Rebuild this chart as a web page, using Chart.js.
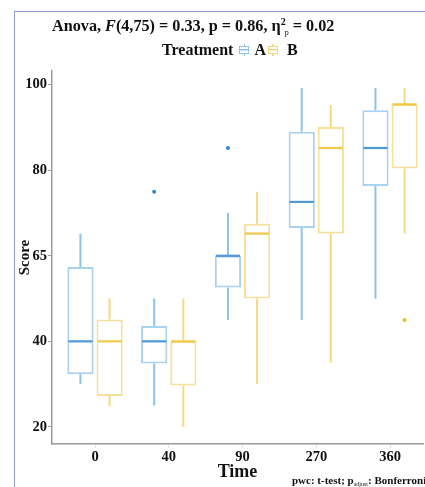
<!DOCTYPE html>
<html>
<head>
<meta charset="utf-8">
<script src="https://cdn.jsdelivr.net/npm/chart.js@4.4.1/dist/chart.umd.min.js"></script>
<style>
  html, body { margin: 0; padding: 0; background: #fff; }
  body { width: 425px; height: 487px; position: relative; overflow: hidden;
         font-family: "Liberation Serif", "DejaVu Serif", serif; font-weight: bold; color: #111; }
  #frame { position: absolute; left: 14px; top: 11px; width: 420px; height: 480px;
           border-left: 1px solid #8d9bd6; border-top: 1px solid #8d9bd6; }
  #chart { position: absolute; left: 0; top: 0; }
  #title { position: absolute; left: 52px; top: 18px; font-size: 16.2px; line-height: 16px; white-space: nowrap; }
  #title .sup { font-size: 10px; position: relative; top: -6px; }
  #title .sub { font-size: 8px; font-weight: normal; position: relative; top: 4px; margin-left: -1px; }
  #legend { position: absolute; left: 162px; top: 42px; font-size: 16px; line-height: 15px; white-space: nowrap; }
  .key { display: inline-block; position: relative; width: 10px; height: 12px; vertical-align: -1px; }
  .key::before { content: ''; position: absolute; left: 0; right: 0; top: 2px; bottom: 2px; box-sizing: border-box;
                 border: 1.5px solid currentColor;
                 background: linear-gradient(currentColor, currentColor) center / 100% 1.5px no-repeat; }
  .key::after { content: ''; position: absolute; left: 50%; top: 0; bottom: 0; width: 1.5px; margin-left: -0.75px;
                background: linear-gradient(currentColor, currentColor) top / 100% 2px no-repeat,
                            linear-gradient(currentColor, currentColor) bottom / 100% 2px no-repeat; }
  .ka { color: #8fc3ec; margin: 0 5px 0 6px; }
  .kb { color: #f4d77c; margin: 0 9px 0 2px; }
  #caption { position: absolute; left: 292px; top: 475px; font-size: 11px; line-height: 11px; white-space: nowrap; }
  #caption .sub { font-size: 6px; font-weight: normal; position: relative; top: 2px; }
</style>
</head>
<body>
<div id="frame"></div>
<canvas id="chart" width="425" height="487"></canvas>
<div id="title">Anova, <i>F</i>(4,75) = 0.33, p = 0.86, η<span class="sup">2</span><span class="sub">p</span> = 0.02</div>
<div id="legend">Treatment<span class="key ka"></span>A<span class="key kb"></span>B</div>
<div id="caption">pwc: t-test; p<span class="sub">adjust</span>: Bonferroni</div>
<script>
// x categories (Time) and y tick labels
const times = ['0', '40', '90', '270', '360'];
const yTickValues = [20, 40, 60, 80, 100];
const yTickLabels = ['20', '40', '65', '80', '100'];

// Treatment A
const aLow  = [30, 25, 45, 45, 50];
const aQ1   = [32.3, 34.8, 52.6, 66.5, 76.3];
const aMed  = [40, 40, 60, 72.6, 85.2];
const aQ3   = [57.4, 43.6, 60, 89, 94];
const aHigh = [65.2, 50, 70, 99.2, 99.2];
const aOut  = [[], [75], [85.2], [], []];

// Treatment B
const bLow  = [24.8, 20, 30, 35, 65.2];
const bQ1   = [27.2, 29.7, 50, 65.2, 80.4];
const bMed  = [40, 40, 65.2, 85.2, 95.4];
const bQ3   = [45.1, 40, 67.5, 90.1, 95.4];
const bHigh = [50, 50, 75, 95.2, 99.2];
const bOut  = [[], [], [], [], [45]];

const serif = '"Liberation Serif", "DejaVu Serif", serif';

const boxData = (q1, q3) => times.map((t, i) => ({ x: i, y: [q1[i], q3[i]] }));

// whiskers, medians and outliers on top of the floating-bar boxes
const boxExtras = {
  id: 'boxExtras',
  afterDatasetsDraw(chart) {
    const { ctx } = chart;
    const y = chart.scales.y;
    chart.data.datasets.forEach((ds, di) => {
      const meta = chart.getDatasetMeta(di);
      meta.data.forEach((bar, i) => {
        const { x, width } = bar.getProps(['x', 'width'], true);
        ctx.save();
        ctx.lineCap = 'butt';
        ctx.strokeStyle = ds.whiskerColor;
        ctx.lineWidth = 2;
        ctx.beginPath();
        ctx.moveTo(x, y.getPixelForValue(ds.hi[i]));
        ctx.lineTo(x, y.getPixelForValue(ds.q3[i]));
        ctx.moveTo(x, y.getPixelForValue(ds.q1[i]));
        ctx.lineTo(x, y.getPixelForValue(ds.lo[i]));
        ctx.stroke();
        ctx.strokeStyle = ds.medianColor;
        ctx.lineWidth = 2.2;
        ctx.beginPath();
        const my = y.getPixelForValue(ds.med[i]);
        ctx.moveTo(x - width / 2 + 1, my);
        ctx.lineTo(x + width / 2 - 1, my);
        ctx.stroke();
        ctx.fillStyle = ds.outColor;
        ds.out[i].forEach(v => {
          ctx.beginPath();
          ctx.arc(x, y.getPixelForValue(v), 2, 0, Math.PI * 2);
          ctx.fill();
        });
        ctx.restore();
      });
    });
  }
};

const tickFont = { family: serif, size: 14.5, weight: 'bold' };

new Chart(document.getElementById('chart'), {
  type: 'bar',
  data: {
    datasets: [
      {
        label: 'A', data: boxData(aQ1, aQ3), stack: 'A',
        backgroundColor: '#ffffff', borderColor: '#a9d1f0', borderWidth: 2, borderSkipped: false,
        categoryPercentage: 0.79, barPercentage: 0.9,
        q1: aQ1, q3: aQ3, lo: aLow, hi: aHigh, med: aMed, out: aOut,
        whiskerColor: '#8ec2ea', medianColor: '#4f97d5', outColor: '#2f86d0'
      },
      {
        label: 'B', data: boxData(bQ1, bQ3), stack: 'B',
        backgroundColor: '#ffffff', borderColor: '#f7e09a', borderWidth: 2, borderSkipped: false,
        categoryPercentage: 0.79, barPercentage: 0.9,
        q1: bQ1, q3: bQ3, lo: bLow, hi: bHigh, med: bMed, out: bOut,
        whiskerColor: '#f5da84', medianColor: '#f1c948', outColor: '#f0be1c'
      }
    ]
  },
  options: {
    responsive: false,
    animation: false,
    layout: { padding: { left: 12, top: 71, right: 2, bottom: 0 } },
    plugins: { legend: { display: false }, tooltip: { enabled: false } },
    scales: {
      x: {
        type: 'linear', min: -0.583, max: 4.447, offset: false, stacked: false,
        afterBuildTicks: s => { s.ticks = times.map((t, i) => ({ value: i })); },
        afterFit: s => { s.height = 43; },
        ticks: { callback: v => times[v], font: tickFont, color: '#111', padding: 1, maxRotation: 0 },
        grid: { drawOnChartArea: false, offset: false, tickLength: 4, color: '#e4e4e4' },
        border: { color: '#9a9a9a', width: 1.5 },
        title: { display: true, text: 'Time', color: '#111', font: { family: serif, size: 18, weight: 'bold' }, padding: { top: 0, bottom: 4 } }
      },
      y: {
        min: 16, max: 103.2, stacked: false,
        afterBuildTicks: s => { s.ticks = yTickValues.map(v => ({ value: v })); },
        afterFit: s => { s.width = 40; },
        ticks: { callback: (v, i) => yTickLabels[i], font: tickFont, color: '#111', padding: 1 },
        grid: { drawOnChartArea: false, tickLength: 4, color: '#9a9a9a' },
        border: { color: '#9a9a9a', width: 1.5 },
        title: { display: true, text: 'Score', color: '#111', font: { family: serif, size: 15, weight: 'bold' }, padding: { top: 4, bottom: 0 } }
      }
    }
  },
  plugins: [boxExtras]
});
</script>
</body>
</html>
